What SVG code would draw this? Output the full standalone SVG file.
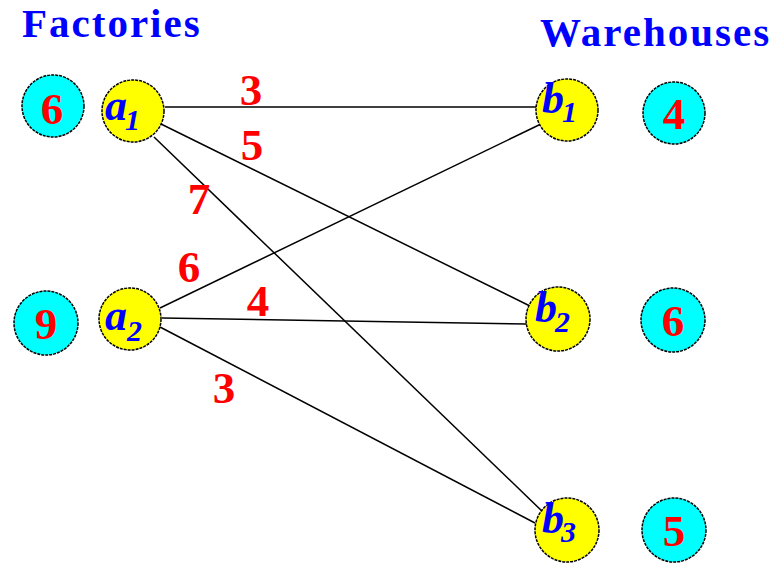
<svg xmlns="http://www.w3.org/2000/svg" width="779" height="563" viewBox="0 0 779 563">
<style>
.sup{fill:#00ffff;stroke:#000;stroke-width:1.5;stroke-dasharray:3 1}
.nd{fill:#ffff00;stroke:#000;stroke-width:1.5;stroke-dasharray:3 1}
.num{font-family:"Liberation Serif",serif;font-weight:bold;font-size:45px;fill:#ff0000;text-anchor:middle}
.nl{font-family:"Liberation Serif",serif;font-weight:bold;font-style:italic;font-size:44px;fill:#0000ff}
.sub{font-size:30px}
.title{font-family:"Liberation Serif",serif;font-weight:bold;font-size:41px;fill:#0000ff;letter-spacing:2px}
.e{stroke:#000;stroke-width:1.5;fill:none}
.w{font-family:"Liberation Serif",serif;font-weight:bold;font-size:45px;fill:#ff0000;text-anchor:middle}
</style>
<rect width="779" height="563" fill="#fff"/>
<text class="title" x="22" y="37">Factories</text>
<text class="title" x="540" y="46">Warehouses</text>
<g id="connectors">
<line class="e" x1="165" y1="107" x2="536" y2="107"/>
<line class="e" x1="161" y1="124" x2="540" y2="311"/>
<line class="e" x1="154" y1="137" x2="545" y2="514"/>
<line class="e" x1="160" y1="308" x2="541" y2="124"/>
<line class="e" x1="162" y1="318" x2="527" y2="324"/>
<line class="e" x1="160" y1="327" x2="535" y2="523"/>
<text class="w" x="251" y="105">3</text>
<text class="w" x="252" y="160">5</text>
<text class="w" x="199" y="214">7</text>
<text class="w" x="189" y="282">6</text>
<text class="w" x="258" y="316">4</text>
<text class="w" x="224" y="403">3</text>
</g>
<g id="s1"><circle class="sup" cx="53" cy="106" r="31"/><text class="num" x="52" y="124">6</text></g>
<g id="s2"><circle class="sup" cx="46" cy="323" r="32"/><text class="num" x="46" y="339">9</text></g>
<g id="a1"><circle class="nd" cx="133" cy="111" r="31"/><text class="nl" x="105" y="120">a<tspan class="sub" x="125" y="130">1</tspan></text></g>
<g id="a2"><circle class="nd" cx="130" cy="319" r="31"/><text class="nl" x="105" y="330">a<tspan class="sub" x="127" y="341">2</tspan></text></g>
<g id="b1"><circle class="nd" cx="567" cy="110" r="31"/><text class="nl" x="542" y="113">b<tspan class="sub" x="562" y="122">1</tspan></text></g>
<g id="b2"><circle class="nd" cx="558" cy="319" r="32"/><text class="nl" x="535" y="322">b<tspan class="sub" x="555" y="332">2</tspan></text></g>
<g id="b3"><circle class="nd" cx="567" cy="530" r="32"/><text class="nl" x="542" y="533">b<tspan class="sub" x="561" y="542">3</tspan></text></g>
<g id="d1"><circle class="sup" cx="674" cy="113" r="31"/><text class="num" x="674" y="129">4</text></g>
<g id="d2"><circle class="sup" cx="673" cy="320" r="32"/><text class="num" x="673" y="336">6</text></g>
<g id="d3"><circle class="sup" cx="674" cy="530" r="32"/><text class="num" x="674" y="546">5</text></g>
</svg>
